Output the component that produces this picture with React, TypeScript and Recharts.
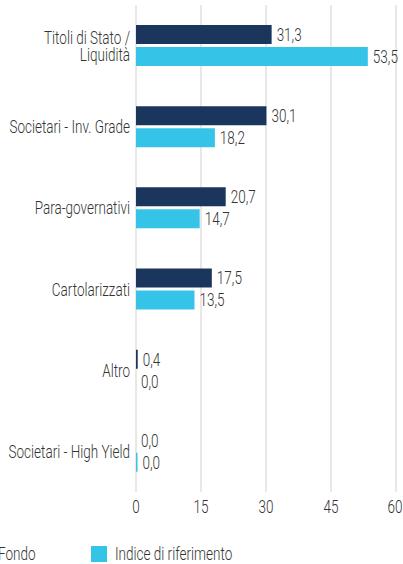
import { BarChart, Bar, XAxis, YAxis, CartesianGrid, LabelList } from 'recharts';

const categories = [
  'Titoli di Stato / Liquidità',
  'Societari - Inv. Grade',
  'Para-governativi',
  'Cartolarizzati',
  'Altro',
  'Societari - High Yield',
];
const fondo = [31.3, 30.1, 20.7, 17.5, 0.4, 0.0];
const indice = [53.5, 18.2, 14.7, 13.5, 0.0, 0.0];
const xTicks = [0, 15, 30, 45, 60];

const data = categories.map((name, i) => ({ name, fondo: fondo[i], indice: indice[i] }));

// condensed look: no condensed font installed, so Roboto squeezed horizontally
const FONT = "Roboto, 'Noto Sans', sans-serif";
const SX = 0.75;
const FS = 18;
const DARK = '#1b365d';
const CYAN = '#35c4e8';
const TEXT = '#333';

const fmt = (v: number) => v.toFixed(1).replace('.', ',');

function CondText({ x, y, anchor, dy, children }: any) {
  return (
    <g transform={`translate(${x},${y}) scale(${SX},1)`}>
      <text x={0} y={0} dy={dy} textAnchor={anchor} fontFamily={FONT} fontSize={FS} fontWeight={300} fill={TEXT}>
        {children}
      </text>
    </g>
  );
}

function CategoryTick({ x, y, payload }: any) {
  const label: string = payload.value;
  const parts = label.split(' / ');
  const lines = parts.length > 1 ? [parts[0] + ' /', parts[1]] : [label];
  const lh = 17;
  const startY = y - ((lines.length - 1) * lh) / 2;
  return (
    <g>
      {lines.map((l, i) => (
        <CondText key={i} x={x} y={startY + i * lh} anchor="end" dy="0.36em">{l}</CondText>
      ))}
    </g>
  );
}

function NumberTick({ x, y, payload }: any) {
  return <CondText x={x} y={y} anchor="middle" dy="0.71em">{payload.value}</CondText>;
}

function ValueLabel({ x, y, width, height, value }: any) {
  return (
    <CondText x={Number(x) + Number(width) + 5} y={Number(y) + Number(height) / 2} anchor="start" dy="0.36em">
      {fmt(Number(value))}
    </CondText>
  );
}

function LegendBox() {
  const items = [
    { label: 'Fondo', color: DARK, left: -26 },
    { label: 'Indice di riferimento', color: CYAN, left: 91 },
  ];
  return (
    <>
      {items.map((it) => (
        <div key={it.label} style={{ position: 'absolute', left: it.left, top: 546, height: 16, display: 'flex', alignItems: 'center' }}>
          <div style={{ width: 16, height: 16, background: it.color, marginRight: 8, flex: 'none' }} />
          <span style={{ display: 'inline-block', whiteSpace: 'nowrap', fontFamily: FONT, fontSize: FS, fontWeight: 300, color: TEXT, transform: `scaleX(${SX})`, transformOrigin: 'left center', lineHeight: '16px' }}>
            {it.label}
          </span>
        </div>
      ))}
    </>
  );
}

export default function App() {
  return (
    <div style={{ position: 'absolute', left: 0, top: 0, width: 403, height: 564, background: '#fff', overflow: 'hidden' }}>
      <BarChart
        width={403}
        height={564}
        data={data}
        layout="vertical"
        margin={{ top: 5, right: 7, bottom: 42, left: 0 }}
        barSize={19}
        barGap={3}
      >
        <CartesianGrid horizontal={false} stroke="#e8e8e8" strokeWidth={2} />
        <XAxis
          type="number"
          domain={[0, 60]}
          ticks={xTicks}
          axisLine={false}
          tickLine={false}
          height={30}
          tick={<NumberTick />}
        />
        <YAxis
          type="category"
          dataKey="name"
          width={136}
          axisLine={false}
          tickLine={false}
          tickMargin={0}
          tick={<CategoryTick />}
        />
        <Bar dataKey="fondo" name="Fondo" fill={DARK} isAnimationActive={false}
          minPointSize={(v: number) => (v === 0 ? 0.01 : 0)}>
          <LabelList dataKey="fondo" content={<ValueLabel />} />
        </Bar>
        <Bar dataKey="indice" name="Indice di riferimento" fill={CYAN} isAnimationActive={false}
          minPointSize={(v: number, i: number) => (v === 0 ? (i === 5 ? 1.5 : 0.01) : 0)}>
          <LabelList dataKey="indice" content={<ValueLabel />} />
        </Bar>
      </BarChart>
      <LegendBox />
    </div>
  );
}
